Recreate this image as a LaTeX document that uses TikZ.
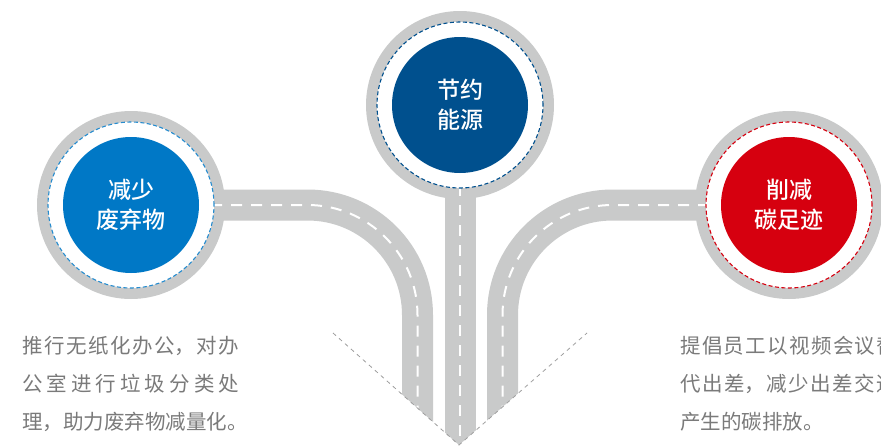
\documentclass[tikz,border=0pt]{standalone}
\usepackage{fontspec}
\setmainfont{Noto Sans CJK SC}[BoldFont={Noto Sans CJK SC Medium}]

\definecolor{roadgray}{HTML}{C9CACA}
\definecolor{wasteblue}{HTML}{0078C6}
\definecolor{energyblue}{HTML}{00508E}
\definecolor{carbonred}{HTML}{D6000F}
\definecolor{textgray}{HTML}{7A7A7A}

\tikzset{
    road/.style={draw=roadgray, line width=31pt, rounded corners=110pt,
        postaction={draw=white, line width=2pt, dash pattern=on 11pt off 9pt}},
    ring/.style={fill=white, draw=#1, line width=1.1pt, dash pattern=on 4pt off 2.5pt},
    goal/.style={circle, fill=#1, minimum size=136pt, inner sep=0pt, text=white,
        align=center, font=\bfseries\fontsize{23}{30}\selectfont},
    body/.style={anchor=north west, inner sep=0pt, text width=217pt, align=justify,
        text=textgray, font=\fontsize{20.5}{38}\selectfont},
    vline/.style={draw=gray!75, line width=0.8pt, dash pattern=on 4pt off 4pt}
}

\begin{document}
\begin{tikzpicture}[x=1pt, y=-1pt]

    %\draw[step=50,help lines] (0,0) grid (881,447);
    \useasboundingbox (0,0) rectangle (881,447);
    \clip (0,0) rectangle (881,447);

    \coordinate (reduce_c) at (131,205);
    \coordinate (save_c) at (460,105);
    \coordinate (cut_c) at (789,205);

    \coordinate (bend_l) at (417.5,205);
    \coordinate (bend_r) at (502.5,205);
    \coordinate (end_l) at (417.5,470);
    \coordinate (end_m) at (460,470);
    \coordinate (end_r) at (502.5,470);

    \coordinate (v_left) at (333,333);
    \coordinate (v_tip) at (459,445);
    \coordinate (v_right) at (587,333);

    % outer gray discs
    \fill[roadgray] (reduce_c) circle (94pt);
    \fill[roadgray] (save_c) circle (94pt);
    \fill[roadgray] (cut_c) circle (94pt);

    % roads, cut off by the V
    \begin{scope}
        \clip (0,0) -- (881,0) -- (881,333) -- (v_right) -- (v_tip) -- (v_left) -- (0,333) -- cycle;
        \draw[road] (reduce_c) -- (bend_l) -- (end_l);
        \draw[road] (save_c) -- (end_m);
        \draw[road] (cut_c) -- (bend_r) -- (end_r);
    \end{scope}

    \draw[ring=wasteblue!85] (reduce_c) circle (83pt);
    \draw[ring=energyblue] (save_c) circle (83pt);
    \draw[ring=carbonred] (cut_c) circle (83pt);

    \node[goal=wasteblue] (reduce) at (reduce_c) {减少\\废弃物};
    \node[goal=energyblue] (save) at (save_c) {节约\\能源};
    \node[goal=carbonred] (cut) at (cut_c) {削减\\碳足迹};

    \draw[vline] (v_left) -- (v_tip) -- (v_right);

    \node[body] (reduce_text) at (22,335.75) {\XeTeXlinebreaklocale "zh"\XeTeXlinebreakskip=0pt plus 6pt
        推行无纸化办公，对办\linebreak 公室进行垃圾分类处\linebreak \mbox{理，助力废弃物减量化。}};
    \node[body] (cut_text) at (680,335.75) {\XeTeXlinebreaklocale "zh"\XeTeXlinebreakskip=0pt plus 6pt
        提倡员工以视频会议替\linebreak 代出差，减少出差交通\linebreak \mbox{产生的碳排放。}};
\end{tikzpicture}
\end{document}
